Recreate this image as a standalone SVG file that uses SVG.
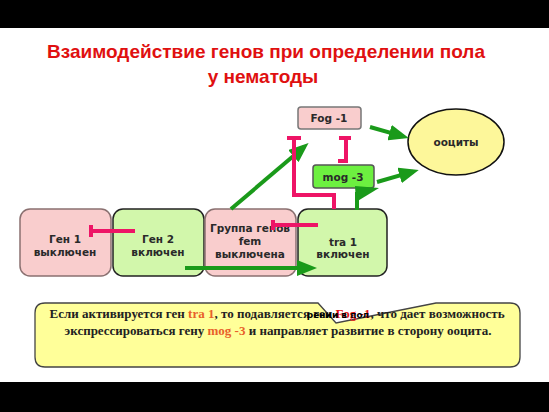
<svg xmlns="http://www.w3.org/2000/svg" width="549" height="412" viewBox="0 0 549 412">
<defs>
<style>
.node{stroke-width:1.5}
.pink{fill:#f9cdcd;stroke:#8a7070}
.lg{fill:#d2f7ab;stroke:#222}
.nt{font-family:"DejaVu Sans",Verdana,sans-serif;font-weight:bold;font-size:10.5px;fill:#2a2a2a;text-anchor:middle}
.act{fill:none;stroke:#1a9a1a;stroke-width:4}
.inh{fill:none;stroke:#ee1466;stroke-width:4}
.title{font-family:"Liberation Sans",Arial,sans-serif;font-weight:bold;font-size:19px;fill:#e01010;text-anchor:middle}
.cap{font-family:"Liberation Serif","Times New Roman",serif;font-weight:bold;font-size:13px;fill:#222;text-anchor:middle}
.hl{fill:#e8602a}
</style>
<marker id="ah" viewBox="0 0 20 16" refX="14" refY="8" markerWidth="20" markerHeight="16" markerUnits="userSpaceOnUse" orient="auto">
<path d="M0,0 L20,8 L0,16 z" fill="#1a9a1a"/>
</marker>
</defs>
<rect width="549" height="412" fill="#fff"/>
<rect x="0" y="0" width="549" height="28" fill="#000"/>
<rect x="0" y="382" width="549" height="30" fill="#000"/>
<text class="title" x="266" y="58">Взаимодействие генов при определении пола</text>
<text class="title" x="263" y="83">у нематоды</text>

<g id="gen1"><rect class="node pink" x="20" y="209" width="91" height="67" rx="10"/><text class="nt" x="65" y="243">Ген 1</text><text class="nt" x="65" y="256">выключен</text></g>
<g id="gen2"><rect class="node lg" x="113" y="209" width="91" height="67" rx="10"/><text class="nt" x="158" y="243">Ген 2</text><text class="nt" x="158" y="256">включен</text></g>
<g id="fem"><rect class="node pink" x="205" y="209" width="91" height="67" rx="10"/><text class="nt" x="250" y="232">Группа генов</text><text class="nt" x="250" y="245">fem</text><text class="nt" x="250" y="258">выключена</text></g>
<g id="tra1"><rect class="node lg" x="298" y="209" width="89" height="67" rx="10"/><text class="nt" x="343" y="246">tra 1</text><text class="nt" x="343" y="258">включен</text></g>
<g id="fog1"><rect class="node" x="298" y="107" width="63" height="22" rx="3" fill="#f9cdcd" stroke="#777"/><text class="nt" x="329" y="122">Fog -1</text></g>
<g id="mog3"><rect class="node" x="313" y="165" width="61" height="23" rx="3" fill="#6df040" stroke="#555"/><text class="nt" x="343" y="181">mog -3</text></g>
<g id="oocytes"><ellipse cx="456" cy="142" rx="48" ry="33" fill="#fdf79a" stroke="#111" stroke-width="1.5"/><text class="nt" x="456" y="146">ооциты</text></g>

<g id="connectors">
<line class="act" x1="370" y1="127" x2="403" y2="136.4" marker-end="url(#ah)"/>
<line class="act" x1="377" y1="182" x2="413" y2="171.6" marker-end="url(#ah)"/>
<line class="act" x1="231" y1="209" x2="304" y2="147" marker-end="url(#ah)"/>
<line class="act" x1="185" y1="268" x2="311" y2="268" marker-end="url(#ah)"/>
<path class="act" d="M357,210 L357,192"/>
<polygon points="355,186 379,188 356,202" fill="#1a9a1a"/>
<path class="inh" d="M135,231 L91,231 M91,225 L91,237"/>
<path class="inh" d="M318,225 L273,225 M273,220 L273,230"/>
<path class="inh" d="M334,209 L334,195 L294,195 L294,138 M287,138 L301,138"/>
<path class="inh" d="M346,163 L346,138 M339,138 L351,138 M338,161 L346,161"/>
</g>

<g id="callout">
<path d="M45,303 L318,303 L336,323 L436,303 L510,303 Q520,303 520,313 L520,357 Q520,367 510,367 L45,367 Q35,367 35,357 L35,313 Q35,303 45,303 Z" fill="#ffff99" stroke="#444" stroke-width="1.3"/>
<text class="cap" x="277" y="318">Если активируется ген <tspan class="hl">tra 1</tspan>, то подавляется ген <tspan fill="#e01010">Fog -1</tspan>, что дает возможность</text>
<text class="cap" x="278" y="335">экспрессироваться гену <tspan class="hl">mog -3</tspan> и направляет развитие в сторону ооцита.</text>
<text x="338" y="318" font-family="DejaVu Sans,sans-serif" font-size="9" font-weight="bold" fill="#000" text-anchor="middle">рении в пол</text>
</g>
</svg>
